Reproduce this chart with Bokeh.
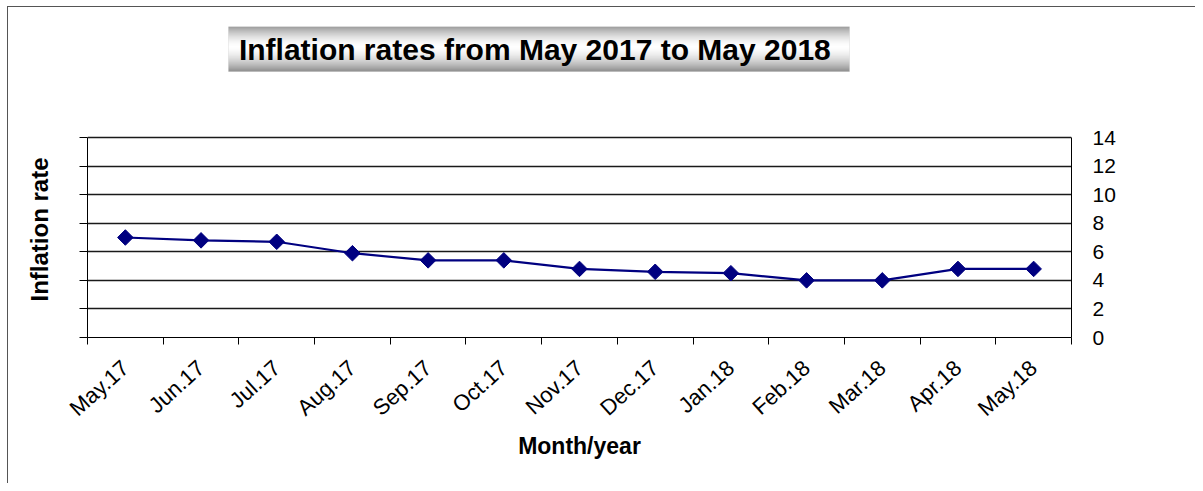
import numpy as np
from bokeh.plotting import figure
from bokeh.models import (FixedTicker, LinearAxis, Range1d, BoxAnnotation, Label, Title,
                          CustomJSTickFormatter, ColumnDataSource)
from bokeh.embed import file_html
from bokeh.resources import INLINE

# ---- data ----
months = ["May.17", "Jun.17", "Jul.17", "Aug.17", "Sep.17", "Oct.17", "Nov.17",
          "Dec.17", "Jan.18", "Feb.18", "Mar.18", "Apr.18", "May.18"]
inflation = [7.0, 6.8, 6.7, 5.9, 5.4, 5.4, 4.8, 4.6, 4.5, 4.0, 4.0, 4.8, 4.8]
y_ticks = [0, 2, 4, 6, 8, 10, 12, 14]
title_text = "Inflation  rates from May 2017 to May 2018"
x_title = "Month/year"
y_title = "Inflation  rate"

n = len(months)
centers = [i + 0.5 for i in range(n)]
bounds = [float(i) for i in range(n + 1)]
src = ColumnDataSource(dict(x=centers, y=inflation, m=months))

FONT = "Liberation Sans"

W, H = 1195, 483
FL, FR = 87, 1071        # frame left/right (page px)
PT, FB = 137, 337        # plot-area top (value 14) and bottom (value 0)
FT = 26                  # frame extended upward to hold the title box
YMAX = max(y_ticks)
ytop = YMAX * (FB - FT) / (FB - PT)


def dx(px):
    return (px - FL) / (FR - FL) * n


def dy(py):
    return (FB - py) / (FB - PT) * YMAX


p = figure(width=W, height=H, output_backend="svg", toolbar_location=None,
           x_range=Range1d(0, n), y_range=Range1d(0, ytop),
           min_border_left=FL, min_border_right=W - FR, min_border_top=FT,
           min_border_bottom=H - FB)
p.outline_line_color = None
p.background_fill_color = "white"
p.border_fill_alpha = 0
p.styles = {
    "background-color": "white",
    "background-image": "linear-gradient(#555555, #555555), linear-gradient(#555555, #555555)",
    "background-repeat": "no-repeat",
    "background-position": "7px 6px, 7px 6px",
    "background-size": "1px 100%, 100% 1px",
}

# x axis (below)
xa = p.xaxis[0]
xa.ticker = FixedTicker(ticks=centers, minor_ticks=bounds)
xa.formatter = CustomJSTickFormatter(args=dict(labels=months),
                                     code="return labels[Math.round(tick - 0.5)];")
xa.major_tick_out = 0
xa.major_tick_in = 0
xa.minor_tick_out = 7
xa.minor_tick_in = 0
xa.minor_tick_line_color = "black"
xa.axis_line_color = "black"
xa.major_label_orientation = np.radians(42)
xa.major_label_standoff = 20
xa.major_label_text_font = FONT
xa.major_label_text_font_size = "22px"
xa.major_label_text_color = "black"
xa.axis_label = x_title
xa.axis_label_text_font = FONT
xa.axis_label_text_font_style = "bold"
xa.axis_label_text_font_size = "23px"
xa.axis_label_text_color = "black"
xa.axis_label_standoff = 0

# left axis: ticks only
ya = p.yaxis[0]
ya.ticker = FixedTicker(ticks=y_ticks)
ya.bounds = (0, YMAX)
ya.formatter = CustomJSTickFormatter(code="return '';")
ya.major_tick_out = 8
ya.major_tick_in = 0
ya.minor_tick_out = 0
ya.minor_tick_in = 0
ya.major_label_standoff = 0
ya.axis_line_color = "black"
ya.major_tick_line_color = "black"

# y-axis title, placed along the 0..14 part of the frame
p.add_layout(Title(text=y_title, align="left", offset=FB - 301, vertical_align="top",
                   standoff=50, text_font=FONT, text_font_style="bold",
                   text_font_size="24px", text_color="black"), "left")

# right axis: labels only
ra = LinearAxis(ticker=FixedTicker(ticks=y_ticks), bounds=(0, YMAX))
ra.major_tick_out = 0
ra.major_tick_in = 0
ra.minor_tick_out = 0
ra.minor_tick_in = 0
ra.axis_line_color = "black"
ra.major_label_standoff = 21
ra.major_label_text_font = FONT
ra.major_label_text_font_size = "21px"
ra.major_label_text_color = "black"
p.add_layout(ra, "right")

p.xgrid.visible = False
p.ygrid.ticker = FixedTicker(ticks=y_ticks)
p.ygrid.grid_line_color = "#1a1a1a"
p.ygrid.grid_line_width = 1.5

p.line("x", "y", source=src, line_color="#000080", line_width=2.2)
p.scatter("x", "y", source=src, marker="square", size=11, angle=np.pi / 4,
          fill_color="#000080", line_color="#000080")

# title box with vertical gradient (page px converted to data units)
tl, tt, tr, tb = 228, 26, 849, 71
h = tb - tt
for i in range(h):
    t = (i + 0.5) / h
    if t < 0.45:
        g = 255 - (255 - 120) * ((0.45 - t) / 0.45) ** 1.6
    else:
        g = 255 - (255 - 105) * ((t - 0.45) / 0.55) ** 1.6
    g = int(round(g))
    col = "#%02x%02x%02x" % (g, g, g)
    p.add_layout(BoxAnnotation(left=dx(tl), right=dx(tr), top=dy(tt + i), bottom=dy(tt + i + 1.05),
                               fill_color=col, fill_alpha=1.0, line_color=None))
p.add_layout(BoxAnnotation(left=dx(tl), right=dx(tr), top=dy(tt), bottom=dy(tb),
                           fill_alpha=0, line_color="#c8c8c8", line_width=1))
p.add_layout(Label(x=dx((tl + tr) / 2), y=dy((tt + tb) / 2),
                   text=title_text, text_align="center", text_baseline="middle",
                   text_font=FONT, text_font_style="bold", text_font_size="30px",
                   text_color="black"))

open("out.html", "w").write(file_html(p, INLINE))
